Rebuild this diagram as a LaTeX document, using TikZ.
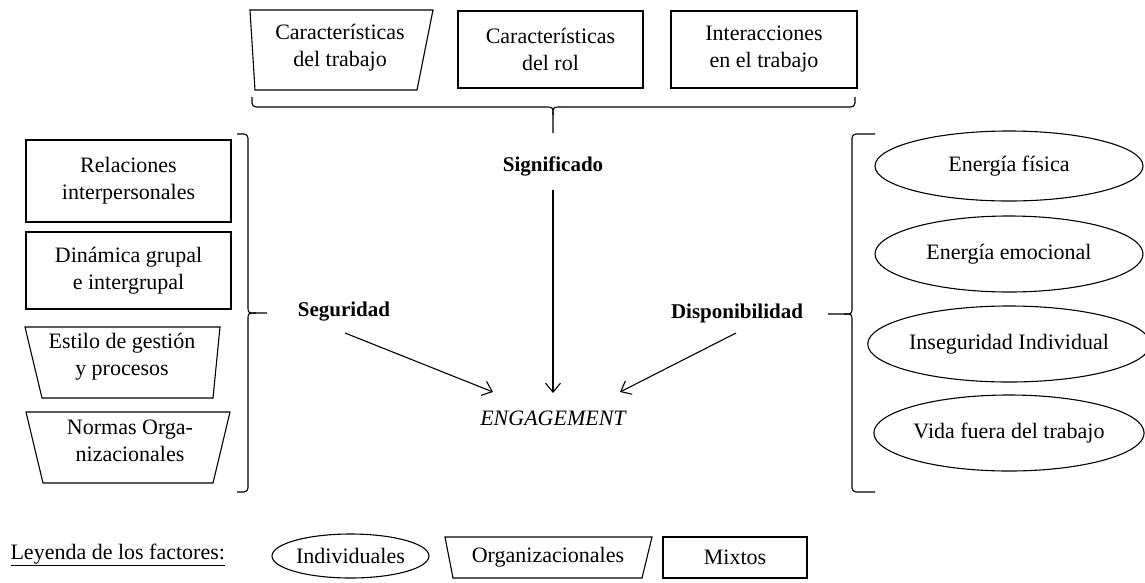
\documentclass[tikz,border=0pt]{standalone}
\usepackage{fontspec}
\setmainfont{Liberation Serif}
\usetikzlibrary{arrows.meta,shapes.geometric}
\begin{document}
\begin{tikzpicture}[x=1pt,y=-1pt,line width=1.1pt,
  txt/.style={font=\fontsize{22}{27}\selectfont,align=center,inner sep=0pt},
  lbl/.style={font=\fontsize{21}{25}\selectfont\bfseries,inner sep=0pt},
  boxr/.style={draw,txt,rectangle},
  ell/.style={draw,txt,ellipse,inner sep=0pt},
  arr/.style={-{Straight Barb[length=9pt,width=15pt]}},
  brc/.style={rounded corners=4pt}]
\useasboundingbox (0,0) rectangle (1145,582);

% top row
\draw (250,10) -- (433,10) -- (417,90) -- (255,90) -- cycle;
\node[txt] (ct) at (340,48) {Características\\del trabajo};
\node[boxr,minimum width=185pt,minimum height=77pt] (cr) at (550.5,49.5) {Características\\del rol};
\node[boxr,minimum width=186pt,minimum height=77pt] (it) at (764,49.5) {Interacciones\\en el trabajo};

% top brace
\draw[brc] (252,97) -- (252,107) -- (545,107);
\draw (545,107) .. controls (553,107) .. (553,115) -- (553,133);
\draw[brc] (855,97) -- (855,107) -- (561,107);
\draw (561,107) .. controls (553,107) .. (553,115);

% left boxes
\node[boxr,minimum width=205pt,minimum height=82pt] (ri) at (128.5,181) {Relaciones\\interpersonales};
\node[boxr,minimum width=205pt,minimum height=77pt] (dg) at (128.5,270.5) {Dinámica grupal\\e intergrupal};
\draw (25,327) -- (220,327) -- (213,398) -- (42,398) -- cycle;
\node[txt] (eg) at (122,357) {Estilo de gestión\\y procesos};
\draw (26,412) -- (230,412) -- (213,483) -- (43,483) -- cycle;
\node[txt] (no) at (130,441) {Normas Orga-\\nizacionales};

% left brace
\draw[brc] (237,134) -- (248,134) -- (248,306);
\draw (248,306) .. controls (248,313) .. (256,313) -- (267,313);
\draw (256,313) .. controls (248,313) .. (248,320);
\draw[brc] (248,320) -- (248,492) -- (237,492);

% right ellipses
\node[ell,minimum width=268pt,minimum height=70pt] (ef) at (1009,166) {Energía física};
\node[ell,minimum width=268pt,minimum height=76pt] (ee) at (1009,254) {Energía emocional};
\node[ell,minimum width=268pt,minimum height=76pt] (ii) at (1009,344) {Inseguridad Individual};
\node[ell,minimum width=268pt,minimum height=76pt] (vf) at (1009,433) {Vida fuera del trabajo};

% right brace
\draw[brc] (875,134) -- (852,134) -- (852,307);
\draw (852,307) .. controls (852,314) .. (844,314) -- (828,314);
\draw (844,314) .. controls (852,314) .. (852,321);
\draw[brc] (852,321) -- (852,492) -- (875,492);

% central labels
\node[lbl] (sig) at (553,166) {Significado};
\node[lbl] (seg) at (344,312) {Seguridad};
\node[lbl] (dis) at (737,313) {Disponibilidad};
\node[txt,font=\fontsize{22}{27}\selectfont\itshape] (eng) at (553,418) {ENGAGEMENT};

\draw[arr] ([shift={(0,24)}]sig.center) -- ([shift={(0,-25)}]eng.center);
\draw[arr] ([shift={(1,21)}]seg.center) -- ([shift={(-60,-26)}]eng.center);
\draw[arr] ([shift={(-1,20)}]dis.center) -- ([shift={(67,-26)}]eng.center);

% legend
\node[txt,anchor=west] (ley) at (10,555) {\underline{Leyenda de los factores:}};
\node[ell,minimum width=157pt,minimum height=44pt] (ind) at (350.5,556) {Individuales};
\draw (445,537) -- (652,537) -- (642,578) -- (453,578) -- cycle;
\node[txt] (org) at (548,557) {Organizacionales};
\node[boxr,minimum width=144pt,minimum height=41pt] (mix) at (735,557.5) {Mixtos};
\end{tikzpicture}
\end{document}
